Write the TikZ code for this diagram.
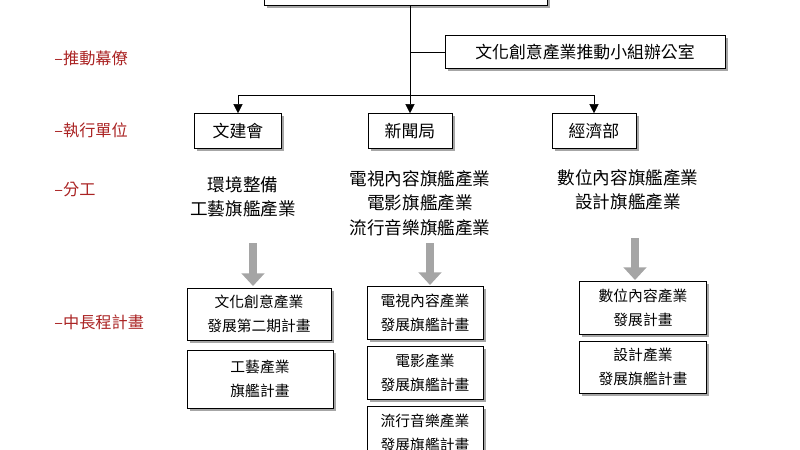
\documentclass[tikz,border=0pt]{standalone}
\usepackage{fontspec}
\setmainfont{Noto Sans CJK TC}
\usetikzlibrary{shadows,arrows.meta}
\definecolor{red1}{RGB}{170,35,35}
\definecolor{gray1}{RGB}{165,165,165}
\tikzstyle{block} = [draw, rectangle, thick, fill=white, text centered, inner sep=0pt, drop shadow={shadow xshift=4pt, shadow yshift=-4pt, fill=gray!70, opacity=1}]
\tikzstyle{level} = [text=red1, anchor=west, font=\fontsize{23}{26}\selectfont]
\tikzstyle{task} = [align=center, font=\fontsize{25}{35}\selectfont]
\tikzstyle{plan} = [block, align=center, font=\fontsize{21}{34}\selectfont]
\tikzstyle{arrow} = [draw, thick, -{Triangle[length=13pt, width=13pt]}]
\tikzstyle{bigarrow} = [draw=gray1, line width=11pt, -{Triangle[length=18pt, width=32pt]}]

\begin{document}
\begin{tikzpicture}[x=0.05cm, y=-0.05cm]
  \useasboundingbox (0,0) rectangle (800,450);
  \clip (0,0) rectangle (800,450);

  % levels
  \node [level] (lstaff) at (52,58) {–推動幕僚};
  \node [level] (lunit) at (52,130) {–執行單位};
  \node [level] (ltask) at (52,190) {–分工};
  \node [level] (lplan) at (52,322) {–中長程計畫};

  % organisation
  \node [block, minimum width=283*0.05cm, minimum height=40*0.05cm] (top) at (406,-15) {};
  \node [block, minimum width=280*0.05cm, minimum height=33*0.05cm, font=\fontsize{24}{26}\selectfont] (office) at (585,52) {文化創意產業推動小組辦公室};
  \node [block, minimum width=87*0.05cm, minimum height=35*0.05cm, font=\fontsize{24}{26}\selectfont] (cca) at (238,131) {文建會};
  \node [block, minimum width=84*0.05cm, minimum height=35*0.05cm, font=\fontsize{24}{26}\selectfont] (gio) at (410,131) {新聞局};
  \node [block, minimum width=84*0.05cm, minimum height=35*0.05cm, font=\fontsize{24}{26}\selectfont] (moea) at (594,131) {經濟部};

  \coordinate (stem) at (410,5);
  \coordinate (split) at (410,95);
  \draw [thick] (stem) -- (split);
  \draw [thick] (stem |- office.west) -- (office.west);
  \draw [arrow] (split) -| (cca.north);
  \draw [arrow] (split) -- (gio.north);
  \draw [arrow] (split) -| (moea.north);

  % tasks
  \node [task] (task1) at (243,197) {環境整備\\工藝旗艦產業};
  \node [task] (task2) at (420,203) {電視內容旗艦產業\\電影旗艦產業\\流行音樂旗艦產業};
  \node [task] (task3) at (628,190) {數位內容旗艦產業\\設計旗艦產業};

  % plans
  \node [plan, minimum width=144*0.05cm, minimum height=52*0.05cm] (plan1a) at (259,314) {文化創意產業\\發展第二期計畫};
  \node [plan, minimum width=146*0.05cm, minimum height=58*0.05cm] (plan1b) at (260,379) {工藝產業\\旗艦計畫};
  \node [plan, minimum width=116*0.05cm, minimum height=53*0.05cm] (plan2a) at (425,313) {電視內容產業\\發展旗艦計畫};
  \node [plan, minimum width=116*0.05cm, minimum height=53*0.05cm] (plan2b) at (425,373) {電影產業\\發展旗艦計畫};
  \node [plan, minimum width=116*0.05cm, minimum height=53*0.05cm] (plan2c) at (425,433) {流行音樂產業\\發展旗艦計畫};
  \node [plan, minimum width=127*0.05cm, minimum height=53*0.05cm] (plan3a) at (643,308) {數位內容產業\\發展計畫};
  \node [plan, minimum width=127*0.05cm, minimum height=52*0.05cm] (plan3b) at (643,367) {設計產業\\發展旗艦計畫};

  \draw [bigarrow] (253,243) -- (253,286);
  \draw [bigarrow] (430,243) -- (430,285);
  \draw [bigarrow] (635,238) -- (635,280);
\end{tikzpicture}
\end{document}
